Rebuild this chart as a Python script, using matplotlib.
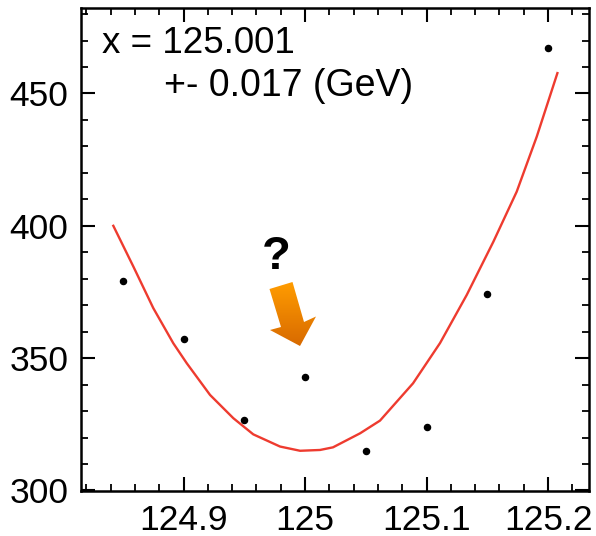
import numpy as np
import matplotlib
matplotlib.use('Agg')
import matplotlib.pyplot as plt
from matplotlib.patches import Polygon
from matplotlib.ticker import MultipleLocator

# measured points
mass = [124.85, 124.9, 124.95, 125.0, 125.05, 125.1, 125.15, 125.2]
counts = [379.2, 357.1, 326.6, 343, 315, 324.1, 374.1, 467]

# red fit curve
fit_x = [124.8422, 124.8587, 124.8751, 124.8916, 124.9026, 124.9218, 124.941, 124.9574,
         124.9794, 124.9959, 125.0123, 125.023, 125.0453, 125.0617, 125.0889, 125.1111,
         125.1331, 125.155, 125.1742, 125.1907, 125.2077]
fit_y = [400, 384.6, 368.9, 355.6, 348.1, 336.1, 327.3, 321.2,
         316.6, 315, 315.3, 316.3, 321.6, 326.4, 340.5, 355.7,
         373.9, 394, 412.9, 433.7, 457.7]

x_ticks = [124.9, 125.0, 125.1, 125.2]
x_labels = ['124.9', '125', '125.1', '125.2']
y_ticks = [300, 350, 400, 450]

plt.rcParams['font.family'] = ['Liberation Sans', 'DejaVu Sans']

W, H = 596, 536
fig = plt.figure(figsize=(W / 100, H / 100), dpi=100)
ax = fig.add_axes([81 / W, 1 - 491 / H, (589 - 81) / W, (491 - 8) / H])

ax.plot(fit_x, fit_y, color='#ee3b2f', lw=1.7, zorder=2)
ax.plot(mass, counts, ls='none', marker='o', color='black', ms=4.4, zorder=3)

ax.set_xlim(124.8156, 125.2337)
ax.set_ylim(299.8, 482.3)

ax.set_xticks(x_ticks)
ax.set_xticklabels(x_labels)
ax.set_yticks(y_ticks)
ax.xaxis.set_minor_locator(MultipleLocator(0.02))
ax.yaxis.set_minor_locator(MultipleLocator(10))
ax.tick_params(which='major', direction='in', top=True, right=True, length=10, width=1.5,
               labelsize=25.5, pad=9)
ax.tick_params(which='minor', direction='in', top=True, right=True, length=5, width=1.3)
for side in ax.spines.values():
    side.set_linewidth(1.8)

# overlay in pixel coordinates for the annotation
over = fig.add_axes([0, 0, 1, 1], facecolor='none')
over.axis('off')

over.text(102, 53, 'x = 125.001', fontsize=26.5, va='baseline', ha='left')
over.text(164, 96, '+- 0.017 (GeV)', fontsize=27, va='baseline', ha='left')
over.text(276, 257, '?', fontsize=34, fontweight='bold', va='center', ha='center')

grad = np.linspace(0, 1, 64).reshape(-1, 1)
cmap = matplotlib.colors.LinearSegmentedColormap.from_list('arrow', ['#ff9c00', '#d86a00'])
img = over.imshow(grad, cmap=cmap, extent=(265, 320, 346, 282), aspect='auto')
over.set_xlim(0, W)
over.set_ylim(H, 0)
arrow = Polygon([(269.5, 289), (292.5, 282), (304, 322), (316, 316.5), (300, 346),
                 (270, 330), (281, 327)], closed=True, transform=over.transData,
                facecolor='none', edgecolor='none')
over.add_patch(arrow)
img.set_clip_path(arrow)

fig.savefig('out.png', dpi=100)
